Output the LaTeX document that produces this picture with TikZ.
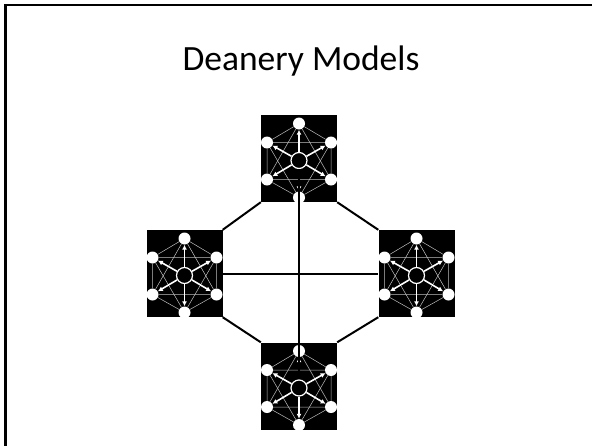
\documentclass[tikz,border=0pt]{standalone}
\usepackage{fontspec}
\setmainfont{Carlito}
\usetikzlibrary{arrows.meta}

\tikzset{
    hub/.pic={
        % black tile with the little network on it
        \node[tile] (-box) at (0,0) {};
        \node[hubnode] (-c) at (0,2) {};
        \node[leaf] (-n1) at (0,-35) {};
        \node[leaf] (-n2) at (-32,-16) {};
        \node[leaf] (-n3) at (32,-16) {};
        \node[leaf] (-n4) at (-32,21) {};
        \node[leaf] (-n5) at (32,21) {};
        \node[leaf] (-n6) at (0,39) {};
        % rim and star
        \draw[thinlink] (-n1) -- (-n2) -- (-n4) -- (-n6) -- (-n5) -- (-n3) -- (-n1);
        \draw[thinlink] (-n1) -- (-n4) -- (-n5) -- (-n1);
        \draw[thinlink] (-n2) -- (-n3) -- (-n6) -- (-n2);
        \foreach \k in {1,...,6}
            \draw[spoke] (-c) -- (-n\k);
    }
}

\begin{document}
\begin{tikzpicture}[
    x=1pt, y=-1pt,
    tile/.style={fill=black, draw=none, minimum width=76pt, minimum height=87pt, inner sep=0pt},
    hubnode/.style={circle, draw=white, fill=black, line width=1.2pt, minimum size=16pt, inner sep=0pt},
    leaf/.style={circle, fill=white, draw=none, minimum size=12pt, inner sep=0pt},
    thinlink/.style={white!75!black, line width=0.5pt},
    spoke/.style={white, line width=1.6pt, -{Latex[length=5pt,width=5pt]}},
    link/.style={black, line width=2pt},
]
\useasboundingbox (0,0) rectangle (592,445);
% slide frame, cut off at right and bottom
\draw[line width=2.5pt] (5.5,460) -- (5.5,5) -- (600,5);

\node[font=\fontsize{35.5}{42}\selectfont] (title) at (301,61) {Deanery Models};

% the four tiles
\pic (top) at (299,158.5) {hub};
\pic (left) at (184.5,273.5) {hub};
\pic (right) at (416.5,273.5) {hub};
\pic (bottom) at (299,386) {hub};

% connectors
\draw[link] (top-box.south west) -- (left-box.north east);
\draw[link] (top-box.south east) -- (right-box.north west);
\draw[link] (bottom-box.north west) -- (left-box.south east);
\draw[link] (bottom-box.north east) -- (right-box.south west);
\draw[link] (left-box.east) -- (right-box.west);
\draw[link] (top-c) -- (bottom-c);
\end{tikzpicture}
\end{document}
